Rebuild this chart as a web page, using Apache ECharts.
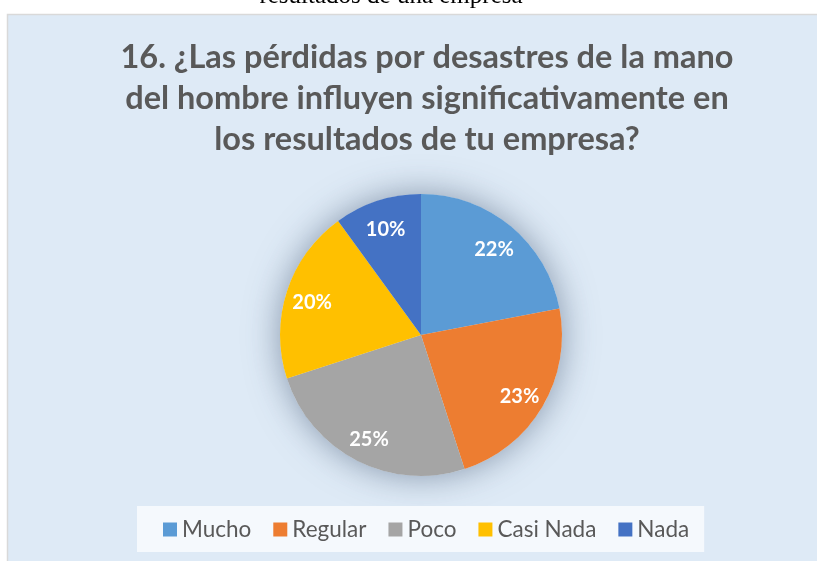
<!DOCTYPE html>
<html lang="es">
<head>
    <meta charset="UTF-8">
    <title>Pérdidas por desastres de la mano del hombre</title>
    <script src="https://cdn.jsdelivr.net/npm/echarts@6/dist/echarts.min.js"></script>
    <style>
        body { margin: 0; background: #fff; }
    </style>
</head>
<body>
<div id="box" style="width: 817px;height: 561px;"></div>
<script>
    var categorias = ['Mucho', 'Regular', 'Poco', 'Casi Nada', 'Nada'];
    var porcentajes = [22, 23, 25, 20, 10];
    var colores = ['#5B9BD5', '#ED7D31', '#A5A5A5', '#FFC000', '#4472C4'];

    var datos = categorias.map(function (c, i) {
        return { name: c, value: porcentajes[i] };
    });

    var myChart = echarts.init(document.getElementById('box'));
    var option = {
        color: colores,
        animation: false,
        title: {
            text: '16. ¿Las pérdidas por desastres de la mano\ndel hombre influyen significativamente en\nlos resultados de tu empresa?',
            left: 422,
            textAlign: 'center',
            top: 32,
            textStyle: {
                fontFamily: 'Lato',
                fontWeight: 'bold',
                fontSize: 32.5,
                lineHeight: 41,
                color: '#595959'
            }
        },
        graphic: [
            {
                type: 'rect',
                z: -10,
                shape: { x: 7.5, y: 14.5, width: 830, height: 560 },
                style: { fill: '#DEEAF6', stroke: '#D9D9D9', lineWidth: 1.5 }
            },
            {
                type: 'text',
                z: -5,
                x: 391,
                y: 9,
                style: {
                    text: 'resultados de una empresa',
                    fontFamily: 'Liberation Serif',
                    fontSize: 25,
                    fill: '#000',
                    textAlign: 'center',
                    textVerticalAlign: 'bottom'
                }
            }
        ],
        legend: {
            bottom: 9,
            left: 137,
            padding: [12, 15, 11, 26],
            backgroundColor: '#F5F9FD',
            itemWidth: 14,
            itemHeight: 14,
            itemGap: 22,
            icon: 'rect',
            textStyle: {
                fontFamily: 'Lato',
                fontSize: 22.5,
                color: '#595959'
            },
            data: categorias
        },
        series: [
            {
                // sombra del círculo
                type: 'pie',
                silent: true,
                radius: 141,
                center: [421, 335],
                label: { show: false },
                itemStyle: {
                    color: '#DEEAF6',
                    shadowBlur: 34,
                    shadowColor: 'rgba(60,80,110,0.55)'
                },
                data: [{ name: '', value: 1 }]
            },
            {
                name: 'Respuestas',
                type: 'pie',
                radius: 141,
                center: [421, 335],
                startAngle: 90,
                label: { show: false },
                itemStyle: { borderWidth: 0 },
                data: datos
            },
            {
                // etiquetas
                type: 'pie',
                silent: true,
                radius: [82, 141],
                center: [421, 338],
                startAngle: 90,
                itemStyle: { color: 'rgba(0,0,0,0)' },
                label: {
                    show: true,
                    position: 'inside',
                    formatter: '{c}%',
                    color: '#fff',
                    fontFamily: 'Lato',
                    fontWeight: 'bold',
                    fontSize: 20,
                    textBorderWidth: 0
                },
                labelLine: { show: false },
                data: datos
            }
        ]
    };
    myChart.setOption(option);
</script>
</body>
</html>
